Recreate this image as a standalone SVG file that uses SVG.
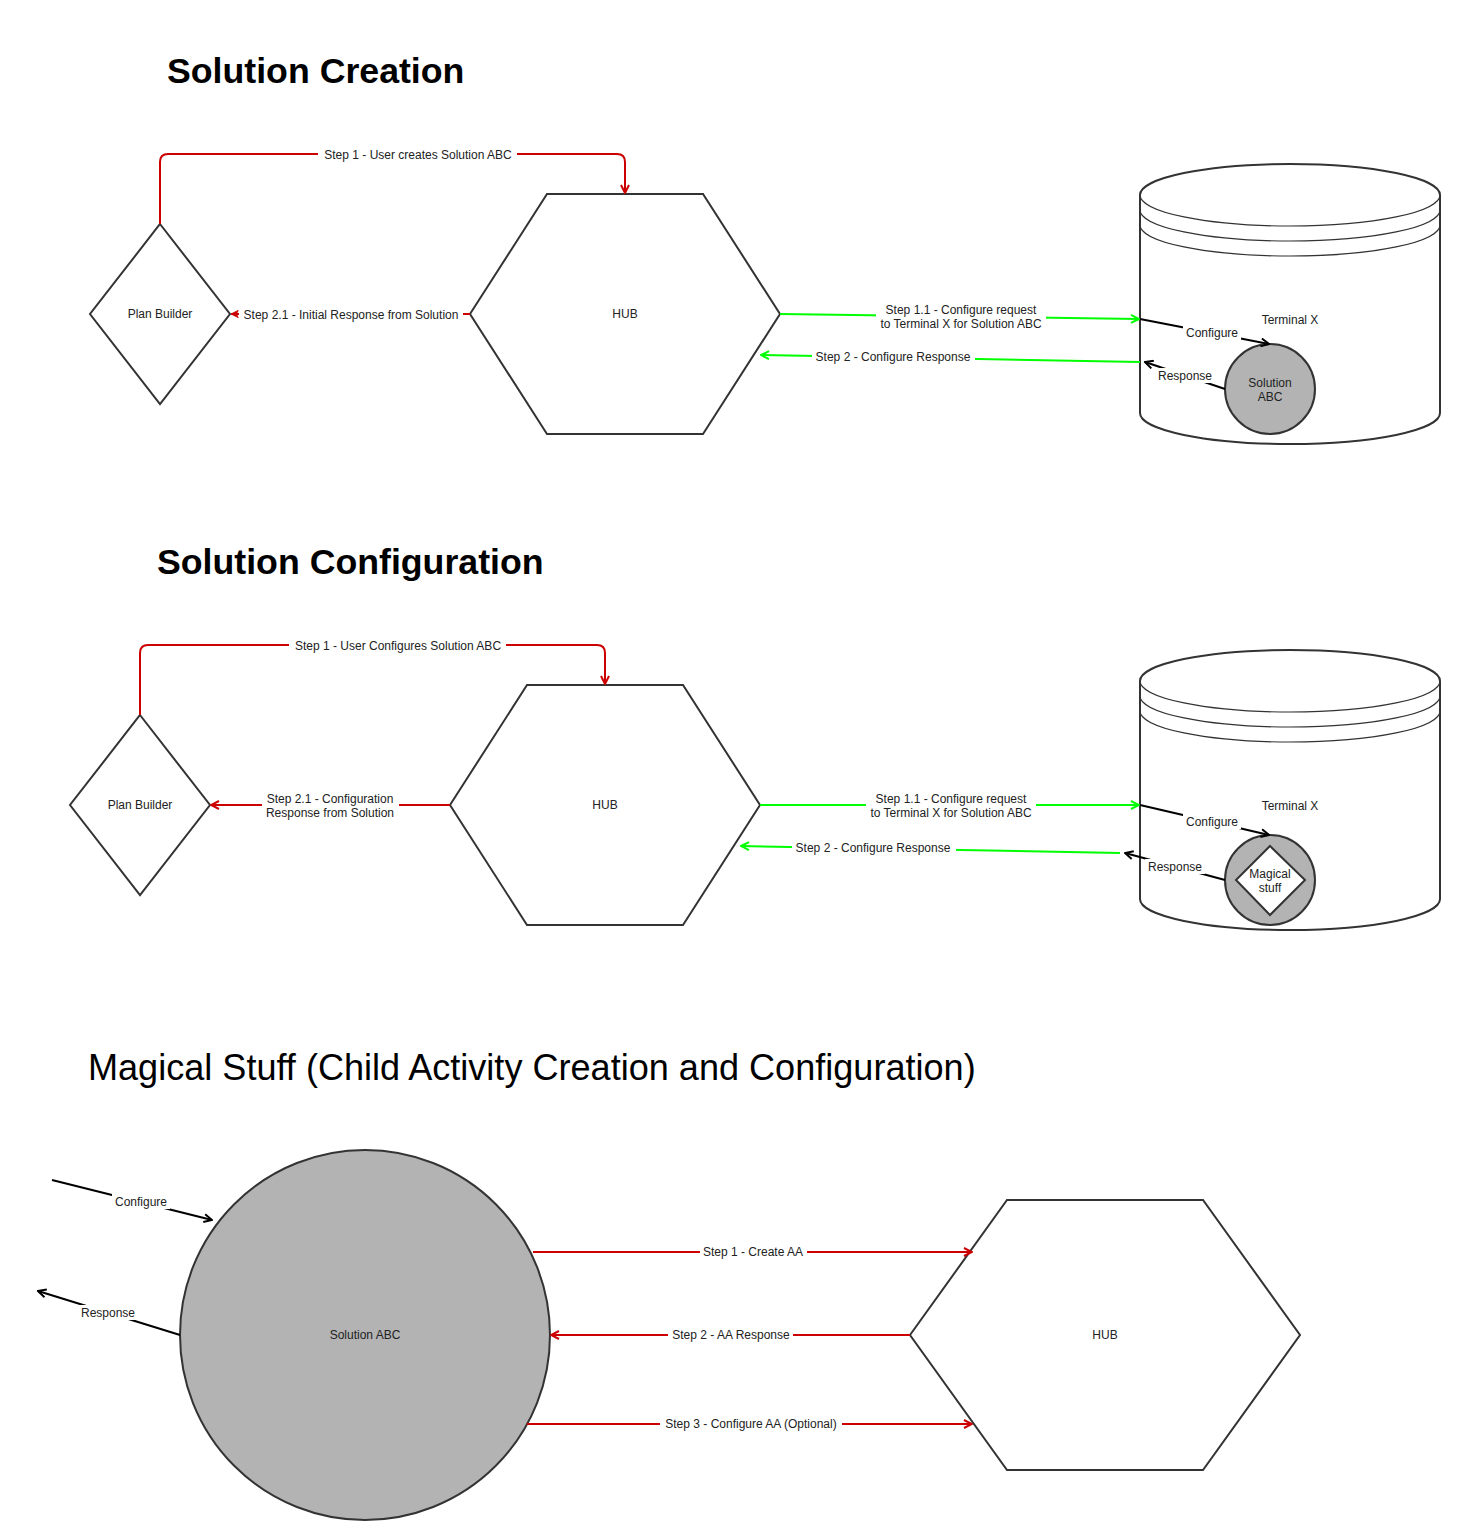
<svg xmlns="http://www.w3.org/2000/svg" width="1462" height="1540" viewBox="0 0 1462 1540">
<defs>
<style>
.node{fill:#fff;stroke:#333;stroke-width:2}
.gray{fill:#b3b3b3;stroke:#333;stroke-width:2}
.thin{fill:none;stroke:#333;stroke-width:1.2}
.lbl{font-family:"Liberation Sans",Arial,sans-serif;font-size:12px;fill:#222;text-anchor:middle}
.title{font-family:"Liberation Sans",Arial,sans-serif;fill:#000}
.red{fill:none;stroke:#cc0000;stroke-width:2}
.green{fill:none;stroke:#00ff00;stroke-width:2}
.blk{fill:none;stroke:#000;stroke-width:2}
.bg{fill:#fff}
</style>
<marker id="ar" viewBox="0 0 10 10" refX="9" refY="5" markerWidth="10" markerHeight="10" orient="auto" markerUnits="userSpaceOnUse"><path d="M1,1 L9,5 L1,9" fill="none" stroke="#cc0000" stroke-width="2"/></marker>
<marker id="arf" viewBox="0 0 10 10" refX="9" refY="5" markerWidth="9" markerHeight="9" orient="auto" markerUnits="userSpaceOnUse"><path d="M1,1 L9,5 L1,9 L3,5 Z" fill="#cc0000" stroke="#cc0000" stroke-width="1"/></marker>
<marker id="ag" viewBox="0 0 10 10" refX="9" refY="5" markerWidth="10" markerHeight="10" orient="auto" markerUnits="userSpaceOnUse"><path d="M1,1 L9,5 L1,9" fill="none" stroke="#00ff00" stroke-width="2"/></marker>
<marker id="ab" viewBox="0 0 10 10" refX="9" refY="5" markerWidth="10" markerHeight="10" orient="auto" markerUnits="userSpaceOnUse"><path d="M1,1 L9,5 L1,9" fill="none" stroke="#000" stroke-width="2"/></marker>
</defs>
<rect width="1462" height="1540" fill="#fff"/>

<!-- Titles -->
<text class="title" x="167" y="83" font-size="35.7" font-weight="bold">Solution Creation</text>
<text class="title" x="157" y="574" font-size="35.7" font-weight="bold">Solution Configuration</text>
<text class="title" x="88" y="1080" font-size="36.1">Magical Stuff (Child Activity Creation and Configuration)</text>

<!-- Section 1 nodes -->
<g id="plan-builder-1"><polygon class="node" points="160,224 230,314 160,404 90,314"/><text class="lbl" x="160" y="318">Plan Builder</text></g>
<g id="hub-1"><polygon class="node" points="470,314 547,194 703,194 780,314 703,434 547,434"/><text class="lbl" x="625" y="318">HUB</text></g>
<g id="terminal-x-1">
<path class="node" d="M1140,195 A150,31 0 0,1 1440,195 L1440,413 A150,31 0 0,1 1140,413 Z"/>
<path class="thin" d="M1140,195 A150,31 0 0,0 1440,195 M1140,210 A150,31 0 0,0 1440,210 M1140,225 A150,31 0 0,0 1440,225"/>
<text class="lbl" x="1290" y="324">Terminal X</text>
</g>
<g id="solution-abc-1"><circle class="gray" cx="1270" cy="389" r="45"/><text class="lbl" x="1270" y="387">Solution</text><text class="lbl" x="1270" y="401">ABC</text></g>

<!-- Section 2 nodes -->
<g id="plan-builder-2"><polygon class="node" points="140,715 210,805 140,895 70,805"/><text class="lbl" x="140" y="809">Plan Builder</text></g>
<g id="hub-2"><polygon class="node" points="450,805 527,685 683,685 760,805 683,925 527,925"/><text class="lbl" x="605" y="809">HUB</text></g>
<g id="terminal-x-2">
<path class="node" d="M1140,681 A150,31 0 0,1 1440,681 L1440,899 A150,31 0 0,1 1140,899 Z"/>
<path class="thin" d="M1140,681 A150,31 0 0,0 1440,681 M1140,696 A150,31 0 0,0 1440,696 M1140,711 A150,31 0 0,0 1440,711"/>
<text class="lbl" x="1290" y="810">Terminal X</text>
</g>
<g id="magical-stuff-2"><circle class="gray" cx="1270" cy="880" r="45"/><polygon class="node" points="1270,846 1305,880 1270,915 1236,880"/><text class="lbl" x="1270" y="878">Magical</text><text class="lbl" x="1270" y="892">stuff</text></g>

<!-- Section 3 nodes -->
<g id="solution-abc-3"><circle class="gray" cx="365" cy="1335" r="185"/><text class="lbl" x="365" y="1339">Solution ABC</text></g>
<g id="hub-3"><polygon class="node" points="910,1335 1007,1200 1203,1200 1300,1335 1203,1470 1007,1470"/><text class="lbl" x="1105" y="1339">HUB</text></g>

<!-- Connectors -->
<g id="connectors">
<!-- Section 1 -->
<path class="red" d="M160,224 L160,162 Q160,154 168,154 L617,154 Q625,154 625,162 L625,193" marker-end="url(#ar)"/>
<rect class="bg" x="318" y="146" width="199" height="16"/>
<text class="lbl" x="418" y="159">Step 1 - User creates Solution ABC</text>

<path class="red" d="M470,314 L231,314" marker-end="url(#arf)"/>
<rect class="bg" x="239" y="306" width="224" height="16"/>
<text class="lbl" x="351" y="319">Step 2.1 - Initial Response from Solution</text>

<path class="green" d="M780,314 L1139,319" marker-end="url(#ag)"/>
<rect class="bg" x="876" y="302" width="170" height="28"/>
<text class="lbl" x="961" y="314">Step 1.1 - Configure request</text>
<text class="lbl" x="961" y="328">to Terminal X for Solution ABC</text>

<path class="green" d="M1140,362 L761,355" marker-end="url(#ag)"/>
<rect class="bg" x="812" y="350" width="163" height="15"/>
<text class="lbl" x="893" y="361">Step 2 - Configure Response</text>

<path class="blk" d="M1140,319 L1269,344" marker-end="url(#ab)"/>
<rect class="bg" x="1183" y="325" width="58" height="15"/>
<text class="lbl" x="1212" y="337">Configure</text>

<path class="blk" d="M1225,389 L1145,362" marker-end="url(#ab)"/>
<rect class="bg" x="1155" y="368" width="60" height="15"/>
<text class="lbl" x="1185" y="380">Response</text>

<!-- Section 2 -->
<path class="red" d="M140,715 L140,653 Q140,645 148,645 L597,645 Q605,645 605,653 L605,684" marker-end="url(#ar)"/>
<rect class="bg" x="289" y="637" width="217" height="16"/>
<text class="lbl" x="398" y="650">Step 1 - User Configures Solution ABC</text>

<path class="red" d="M450,805 L211,805" marker-end="url(#ar)"/>
<rect class="bg" x="262" y="791" width="137" height="29"/>
<text class="lbl" x="330" y="803">Step 2.1 - Configuration</text>
<text class="lbl" x="330" y="817">Response from Solution</text>

<path class="green" d="M760,805 L1139,805" marker-end="url(#ag)"/>
<rect class="bg" x="866" y="791" width="170" height="28"/>
<text class="lbl" x="951" y="803">Step 1.1 - Configure request</text>
<text class="lbl" x="951" y="817">to Terminal X for Solution ABC</text>

<path class="green" d="M1120,853 L741,846" marker-end="url(#ag)"/>
<rect class="bg" x="792" y="841" width="164" height="15"/>
<text class="lbl" x="873" y="852">Step 2 - Configure Response</text>

<path class="blk" d="M1140,805 L1269,835" marker-end="url(#ab)"/>
<rect class="bg" x="1183" y="814" width="58" height="15"/>
<text class="lbl" x="1212" y="826">Configure</text>

<path class="blk" d="M1225,880 L1125,853" marker-end="url(#ab)"/>
<rect class="bg" x="1145" y="859" width="60" height="15"/>
<text class="lbl" x="1175" y="871">Response</text>

<!-- Section 3 -->
<path class="red" d="M533,1252 L972,1252" marker-end="url(#ar)"/>
<rect class="bg" x="700" y="1244" width="107" height="16"/>
<text class="lbl" x="753" y="1256">Step 1 - Create AA</text>

<path class="red" d="M910,1335 L551,1335" marker-end="url(#ar)"/>
<rect class="bg" x="668" y="1327" width="125" height="16"/>
<text class="lbl" x="731" y="1339">Step 2 - AA Response</text>

<path class="red" d="M527,1424 L972,1424" marker-end="url(#ar)"/>
<rect class="bg" x="660" y="1416" width="182" height="16"/>
<text class="lbl" x="751" y="1428">Step 3 - Configure AA (Optional)</text>

<path class="blk" d="M52,1180 L212,1220" marker-end="url(#ab)"/>
<rect class="bg" x="112" y="1194" width="58" height="15"/>
<text class="lbl" x="141" y="1206">Configure</text>

<path class="blk" d="M180,1335 L38,1291" marker-end="url(#ab)"/>
<rect class="bg" x="78" y="1305" width="60" height="15"/>
<text class="lbl" x="108" y="1317">Response</text>
</g>
</svg>
